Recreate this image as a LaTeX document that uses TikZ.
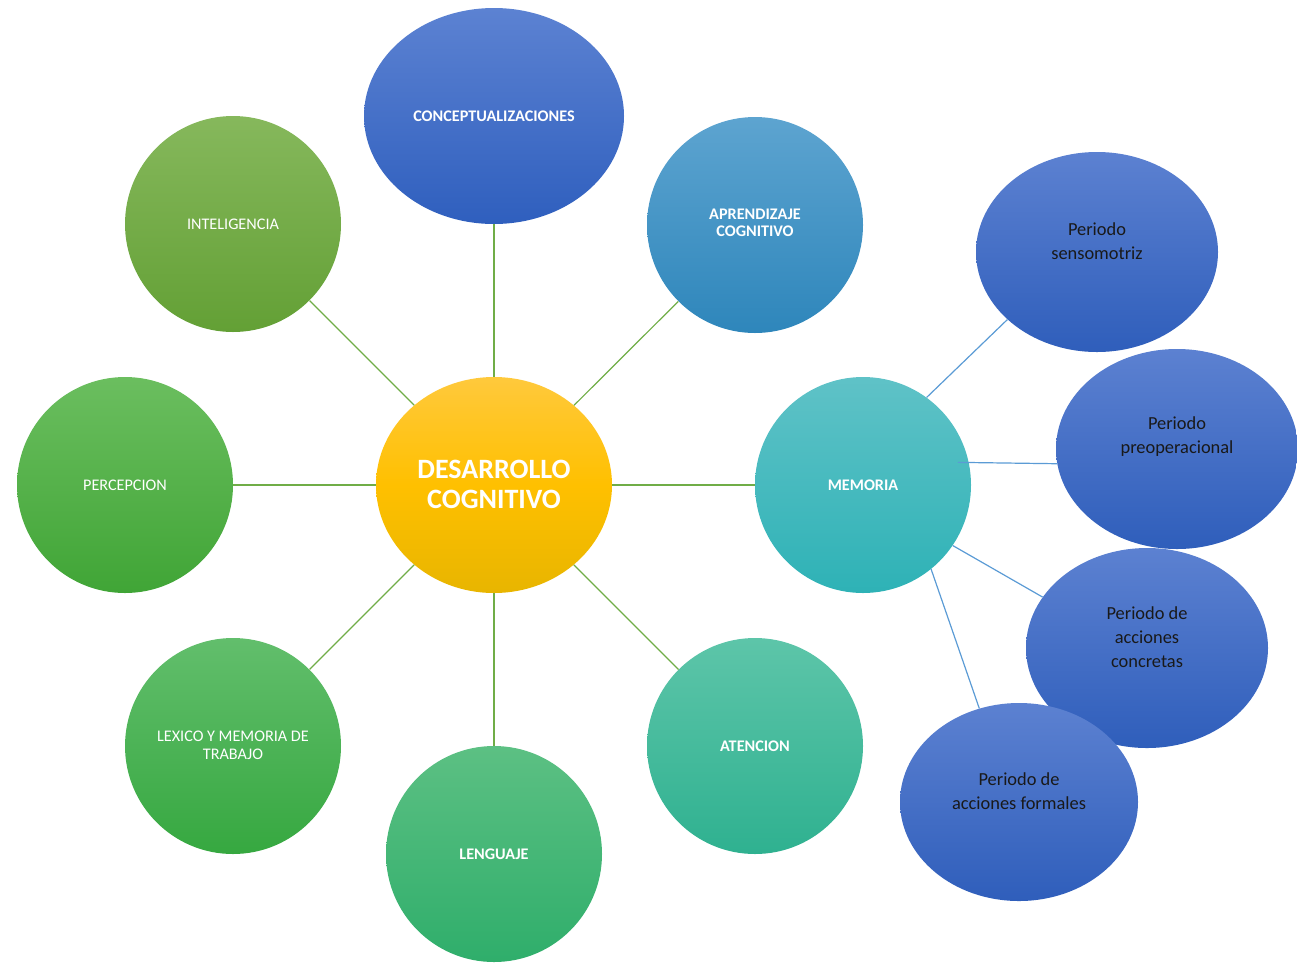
\documentclass[tikz,border=0pt]{standalone}
\usepackage{fontspec}
\setmainfont{Carlito}
\usetikzlibrary{shapes.geometric}
\definecolor{gline}{HTML}{70AD47}
\definecolor{bline}{HTML}{5B9BD5}
\definecolor{b1}{HTML}{5C81D1}
\definecolor{b2}{HTML}{2F5EBB}
\definecolor{ct}{HTML}{FFC93C}
\definecolor{cm}{HTML}{FFC000}
\definecolor{cb}{HTML}{E8B500}
\definecolor{kt}{HTML}{5C82D2}
\definecolor{kb}{HTML}{2F5FBE}
\definecolor{at}{HTML}{5DA4D0}
\definecolor{ab}{HTML}{2E86BB}
\definecolor{it}{HTML}{86B85C}
\definecolor{ib}{HTML}{63A035}
\definecolor{pt}{HTML}{6BBE5F}
\definecolor{pb}{HTML}{40A536}
\definecolor{mt}{HTML}{5FC2C7}
\definecolor{mb}{HTML}{2EB2B6}
\definecolor{lt}{HTML}{62BE6C}
\definecolor{lb}{HTML}{36A840}
\definecolor{gt}{HTML}{5CC083}
\definecolor{gb}{HTML}{2FAE6B}
\definecolor{et}{HTML}{5DC5A9}
\definecolor{eb}{HTML}{2FB190}
\tikzset{
  bub/.style={ellipse, inner sep=0pt, draw=none, text=white, align=center,
    minimum width=216pt, minimum height=216pt},
  sm/.style={text=white, align=center, font=\fontsize{16.2}{18}\selectfont},
  smb/.style={text=white, align=center, font=\bfseries\fontsize{16.2}{17}\selectfont},
  per/.style={bub, minimum width=242pt, minimum height=200pt, top color=b1, bottom color=b2},
  pertext/.style={text={black!90}, align=center, font=\fontsize{18.4}{24}\selectfont},
  gconn/.style={draw=gline, line width=1.2pt},
  bconn/.style={draw=bline, line width=1.2pt},
}
\begin{document}
\begin{tikzpicture}[x=1pt,y=-1pt]
\useasboundingbox (0,0) rectangle (1297,962);
\node[bub, minimum width=236pt, minimum height=216pt, top color=ct, bottom color=cb, middle color=cm] (center) at (494,485) {};
\node[bub, minimum width=260pt, top color=kt, bottom color=kb] (concept) at (494,116) {};
\node[bub, top color=at, bottom color=ab] (aprend) at (755,225) {};
\node[bub, top color=it, bottom color=ib] (intel) at (233,224) {};
\node[bub, top color=pt, bottom color=pb] (percep) at (125,485) {};
\node[bub, top color=mt, bottom color=mb] (memoria) at (863,485) {};
\node[bub, top color=lt, bottom color=lb] (lexico) at (233,746) {};
\node[bub, top color=gt, bottom color=gb] (lenguaje) at (494,854) {};
\node[bub, top color=et, bottom color=eb] (atencion) at (755,746) {};
% green connectors
\foreach \n in {concept,aprend,intel,percep,memoria,lexico,lenguaje,atencion}
  \draw[gconn] (center) -- (\n);
% labels
\node[text=white, font=\bfseries\fontsize{28}{30}\selectfont, align=center] (lc) at (494,484) {DESARROLLO\\COGNITIVO};
\node[smb] (l1) at (494,116) {CONCEPTUALIZACIONES};
\node[smb] (l2) at (755,223) {APRENDIZAJE\\COGNITIVO};
\node[sm] (l3) at (233,224) {INTELIGENCIA};
\node[sm] (l4) at (125,485) {PERCEPCION};
\node[smb] (l5) at (863,485) {MEMORIA};
\node[sm] (l6) at (233,745) {LEXICO Y MEMORIA DE\\TRABAJO};
\node[smb] (l7) at (494,854) {LENGUAJE};
\node[smb] (l8) at (755,746) {ATENCION};
% periods
\node[per] (senso) at (1097,252) {};
\node[per] (preop) at (1177,449) {};
\node[per] (concr) at (1147,648) {};
\node[per, minimum width=238pt, minimum height=198pt] (formal) at (1019,802) {};
\node[pertext] (t1) at (1097,241) {Periodo\\sensomotriz};
\node[pertext] (t2) at (1177,437) {Periodo\\preoperacional};
\node[pertext] (t3) at (1147,637) {Periodo de\\acciones\\concretas};
\node[pertext] (t4) at (1019,791) {Periodo de\\acciones formales};
% blue connectors
\draw[bconn] (memoria.54) -- (senso.217);
\draw[bconn, shorten <=-11pt] (memoria.12) -- (preop.187);
\draw[bconn] (memoria.-34) -- (concr.154);
\draw[bconn] (memoria.-51) -- (formal.113);
\end{tikzpicture}
\end{document}
